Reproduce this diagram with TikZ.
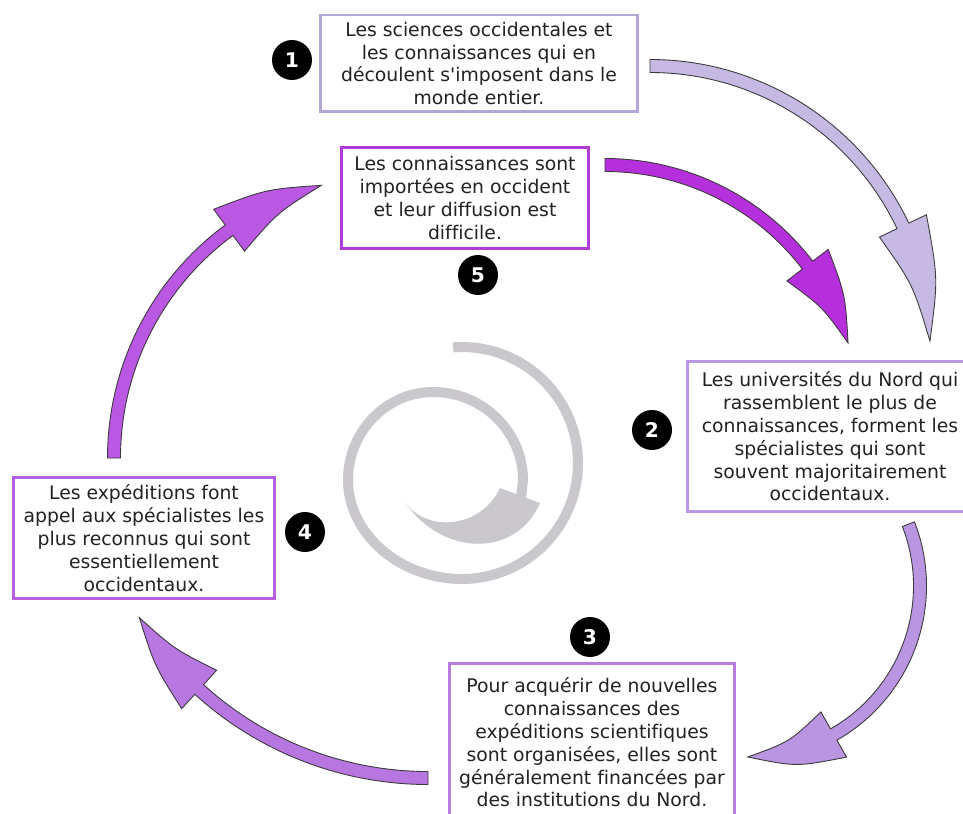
\documentclass[tikz,border=0pt]{standalone}
\usepackage{fontspec}
\setmainfont{DejaVu Sans}[Ligatures=NoCommon]
\usetikzlibrary{calc}

\definecolor{textgray}{HTML}{222222}
\definecolor{edgegray}{HTML}{3A3A3A}
\definecolor{spiralgray}{HTML}{CAC8CD}
\definecolor{oneline}{HTML}{B4A7D8}
\definecolor{onefill}{HTML}{C6BAE4}
\definecolor{twoline}{HTML}{BB98E3}
\definecolor{twofill}{HTML}{B995E2}
\definecolor{threeline}{HTML}{B97CE0}
\definecolor{threefill}{HTML}{B876E1}
\definecolor{fourline}{HTML}{B85FE1}
\definecolor{fourfill}{HTML}{BA58E4}
\definecolor{fiveline}{HTML}{B13BD7}
\definecolor{fivefill}{HTML}{B62FDD}

% centre x, centre y, radius, start, head, tip, colour
\newcommand{\fatarc}[7]{%
    \filldraw[draw=edgegray, line width=0.5pt, fill=#7]
        ($(#1,#2)+(#4:{#3+6.5})$) arc[start angle=#4, end angle=#5, radius={#3+6.5}]
        -- ($(#1,#2)+(#5:{#3+26})$)
        .. controls ($(#1,#2)+({(#5+#6)/2}:{#3+16})$) .. ($(#1,#2)+(#6:#3)$)
        .. controls ($(#1,#2)+({(#5+#6)/2}:{#3-10})$) .. ($(#1,#2)+(#5:{#3-26})$)
        -- ($(#1,#2)+(#5:{#3-6.5})$) arc[start angle=#5, end angle=#4, radius={#3-6.5}]
        -- cycle;}

\begin{document}
\begin{tikzpicture}[x=0.02cm, y=-0.02cm,
    box/.style={draw, line width=1.7pt, fill=white, align=center, inner sep=2pt,
        text=textgray, font=\fontsize{10.7}{13}\selectfont},
    num/.style={circle, fill=black, text=white, minimum size=0.8cm, inner sep=0pt,
        font=\bfseries\fontsize{11.5}{12}\selectfont}]

    \clip (0,0) rectangle (963,814);

    \fatarc{650}{346}{280}{-90}{-25.4}{-1}{onefill}
    \fatarc{605}{420}{255}{-90}{-37.4}{-17.6}{fivefill}
    \fatarc{749}{586}{171}{-21.2}{60.3}{90.4}{twofill}
    \fatarc{428}{438}{340}{90}{132.3}{148.1}{threefill}
    \fatarc{397}{458}{283}{180}{233.6}{254.5}{fourfill}

    \draw[spiralgray, line width=5.7pt]
        ($(462,463)+(-94.4:116)$) arc[start angle=-94.4, end angle=90, radius=116]
        .. controls (400,579) and (348,534) .. (348,480)
        .. controls (348,432) and (386,392) .. (433,392)
        .. controls (483,392) and (523,432) .. (523,480)
        -- (521,498);
    \fill[spiralgray] (500,488) -- (540,503) .. controls (515,560) and (440,555) .. (405,502)
        .. controls (425,532) and (480,530) .. (500,488) -- cycle;

    \node[box, draw=oneline, minimum width=6.36cm, minimum height=1.94cm] (sciences) at (479,63.5)
        {Les sciences occidentales et\\les connaissances qui en\\découlent s\textquotesingle imposent dans le\\monde entier.};
    \node[box, draw=twoline, minimum width=5.72cm, minimum height=3.02cm] (universites) at (830,436.5)
        {Les universités du Nord qui\\rassemblent le plus de\\connaissances, forment les\\spécialistes qui sont\\souvent majoritairement\\occidentaux.};
    \node[box, draw=threeline, minimum width=5.72cm, minimum height=3.18cm] (financement) at (592,742.5)
        {Pour acquérir de nouvelles\\connaissances des\\expéditions scientifiques\\sont organisées, elles sont\\généralement financées par\\des institutions du Nord.};
    \node[box, draw=fourline, minimum width=5.24cm, minimum height=2.44cm] (expeditions) at (144,538)
        {Les expéditions font\\appel aux spécialistes les\\plus reconnus qui sont\\essentiellement\\occidentaux.};
    \node[box, draw=fiveline, minimum width=4.96cm, minimum height=2.04cm] (diffusion) at (465,198)
        {Les connaissances sont\\importées en occident\\et leur diffusion est\\difficile.};

    \node[num] (n1) at (292,60) {1};
    \node[num] (n2) at (652,430) {2};
    \node[num] (n3) at (590,637) {3};
    \node[num] (n4) at (305,532) {4};
    \node[num] (n5) at (478,275) {5};

\end{tikzpicture}
\end{document}
